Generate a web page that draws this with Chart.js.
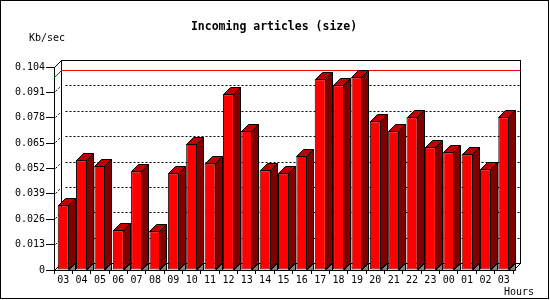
<!DOCTYPE html>
<html>
<head>
<meta charset="utf-8">
<script src="https://cdn.jsdelivr.net/npm/chart.js@4/dist/chart.umd.min.js"></script>
<style>
  html, body { margin: 0; padding: 0; background: #ffffff; }
  canvas { display: block; }
</style>
</head>
<body>
<canvas id="c" width="550" height="300"></canvas>
<script>
// ---- data ----
const chartTitle = 'Incoming articles (size)';
const yUnit = 'Kb/sec';
const xUnit = 'Hours';
const hours = ['03','04','05','06','07','08','09','10','11','12','13','14','15','16','17','18','19','20','21','22','23','00','01','02','03'];
const sizeKbs = [0.0331,0.0562,0.0533,0.0203,0.0505,0.0198,0.0495,0.0647,0.0546,0.0900,0.0712,0.0511,0.0495,0.0584,0.0977,0.0946,0.0987,0.0762,0.0711,0.0782,0.0629,0.0603,0.0593,0.0516,0.0782];
const yTickValues = [0, 0.013, 0.026, 0.039, 0.052, 0.065, 0.078, 0.091, 0.104];
const yTickLabels = ['0', '0.013', '0.026', '0.039', '0.052', '0.065', '0.078', '0.091', '0.104'];

const D = 7; // depth of 3D effect (px)
const MONO = '"DejaVu Sans Mono", "Liberation Mono", monospace';

const wallPlugin = {
  id: 'wall3d',
  beforeDatasetsDraw(chart) {
    const { ctx, chartArea: { left, right, top, bottom }, scales: { y } } = chart;
    const L = Math.round(left) + 0.5, R = Math.round(right) + 0.5;
    const T = Math.round(top) + 0.5, B = Math.round(bottom) + 0.5;
    ctx.save();
    ctx.lineWidth = 1;
    ctx.strokeStyle = '#000';
    // back wall
    ctx.strokeRect(L + D, T - D, R - L, B - T);
    // side connectors
    ctx.beginPath();
    ctx.moveTo(L, T); ctx.lineTo(L + D, T - D);
    ctx.moveTo(L, B); ctx.lineTo(L + D, B - D);
    ctx.moveTo(R, B); ctx.lineTo(R + D, B - D);
    ctx.stroke();
    // dotted gridlines on back wall
    ctx.setLineDash([2, 2]);
    yTickValues.forEach(v => {
      if (v === 0 || v === yTickValues[yTickValues.length - 1]) return;
      const py = Math.round(y.getPixelForValue(v)) + 0.5;
      ctx.beginPath();
      ctx.moveTo(L + 1, py - 1); ctx.lineTo(L + D, py - D);
      ctx.moveTo(L + D + 4, py - D); ctx.lineTo(R + D, py - D);
      ctx.stroke();
    });
    ctx.setLineDash([]);
    // red max line
    const maxV = Math.max(...sizeKbs);
    const my = Math.round(y.getPixelForValue(maxV)) + 0.5;
    ctx.strokeStyle = '#ff0000';
    ctx.beginPath();
    ctx.moveTo(L, my); ctx.lineTo(L + D, my - D); ctx.lineTo(R + D, my - D);
    ctx.stroke();
    ctx.restore();
  },
  afterDatasetsDraw(chart) {
    const { ctx } = chart;
    const meta = chart.getDatasetMeta(0);
    ctx.save();
    ctx.lineWidth = 1;
    ctx.strokeStyle = '#000';
    meta.data.forEach(el => {
      const x0 = Math.round(el.x - el.width / 2) + 0.5;
      const x1 = Math.round(el.x + el.width / 2) - 0.5;
      const t = Math.round(el.y) + 0.5;
      const b = Math.round(el.base) - 0.5;
      // top face
      ctx.beginPath();
      ctx.moveTo(x0, t); ctx.lineTo(x1, t); ctx.lineTo(x1 + D, t - D); ctx.lineTo(x0 + D, t - D); ctx.closePath();
      ctx.fillStyle = '#c00000'; ctx.fill(); ctx.stroke();
      // side face
      ctx.beginPath();
      ctx.moveTo(x1, t); ctx.lineTo(x1 + D, t - D); ctx.lineTo(x1 + D, b - D); ctx.lineTo(x1, b); ctx.closePath();
      ctx.fillStyle = '#800000'; ctx.fill(); ctx.stroke();
      // floor shadow
      ctx.beginPath();
      ctx.moveTo(x1, b + 1); ctx.lineTo(x1 + D, b + 1 - D); ctx.lineTo(x1 + D, b + 1); ctx.closePath();
      ctx.fillStyle = '#808080'; ctx.fill(); ctx.stroke();
    });
    ctx.restore();
  },
  afterDraw(chart) {
    const { ctx } = chart;
    ctx.save();
    ctx.fillStyle = '#000';
    ctx.textBaseline = 'middle';
    ctx.font = 'bold 11.5px ' + MONO;
    ctx.textAlign = 'center';
    ctx.fillText(chartTitle, 274, 27);
    ctx.font = '10px ' + MONO;
    ctx.textAlign = 'left';
    ctx.fillText(yUnit, 29, 38);
    ctx.fillText(xUnit, 504, 292);
    ctx.strokeStyle = '#000';
    ctx.lineWidth = 1;
    ctx.strokeRect(0.5, 0.5, 548, 298);
    ctx.restore();
  }
};

new Chart(document.getElementById('c'), {
  type: 'bar',
  data: {
    labels: hours,
    datasets: [{
      data: sizeKbs,
      backgroundColor: '#ff0000',
      borderColor: '#000000',
      borderWidth: 1,
      borderSkipped: false,
      barPercentage: 0.6,
      categoryPercentage: 1.0
    }]
  },
  options: {
    responsive: false,
    animation: false,
    devicePixelRatio: 1,
    layout: { padding: { top: 67, right: 37, bottom: 0, left: 0 } },
    plugins: { legend: { display: false }, title: { display: false }, tooltip: { enabled: false } },
    scales: {
      x: {
        type: 'category',
        offset: true,
        grid: { display: true, drawOnChartArea: false, drawTicks: true, tickLength: 4, color: '#000', offset: true },
        border: { display: true, color: '#000' },
        ticks: { color: '#000', font: { family: MONO, size: 10 }, padding: 0, maxRotation: 0, autoSkip: false },
        afterFit(scale) { scale.height = 30; }
      },
      y: {
        min: 0,
        max: yTickValues[yTickValues.length - 1],
        afterBuildTicks(scale) { scale.ticks = yTickValues.map(v => ({ value: v })); },
        grid: { display: true, drawOnChartArea: false, drawTicks: true, tickLength: 8, color: '#000' },
        border: { display: true, color: '#000' },
        ticks: {
          color: '#000', font: { family: MONO, size: 10 }, padding: 1,
          callback: (v, i) => yTickLabels[i]
        },
        afterFit(scale) { scale.width = 54; }
      }
    }
  },
  plugins: [wallPlugin]
});
</script>
</body>
</html>
